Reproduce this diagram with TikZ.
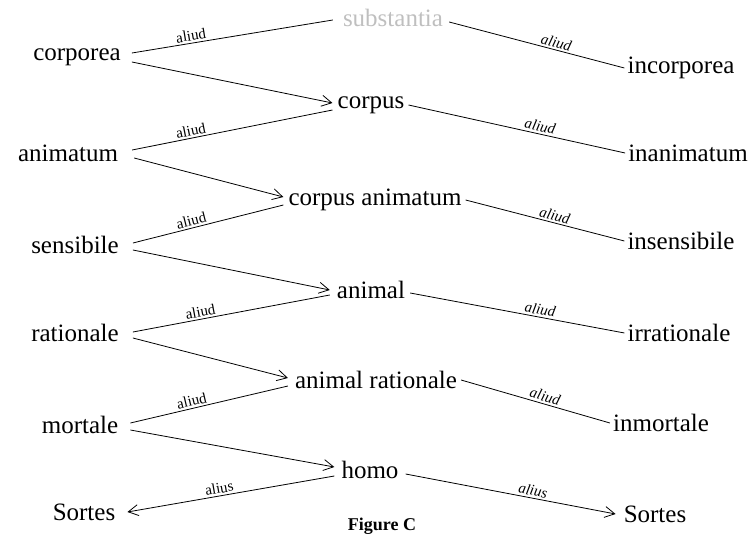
\documentclass[tikz,border=0pt]{standalone}
\usepackage{fontspec}
\setmainfont{Liberation Serif}
\usetikzlibrary{arrows.meta}
\begin{document}
\begin{tikzpicture}[x=1pt,y=-1pt,
  term/.style={font=\fontsize{25}{28}\selectfont, inner sep=0pt},
  lab/.style={font=\fontsize{15}{17}\selectfont, inner sep=2pt, sloped, above},
  rlab/.style={font=\itshape\fontsize{15}{17}\selectfont, inner sep=2pt, sloped, above},
  link/.style={line width=0.8pt},
  arr/.style={line width=0.8pt, -{Straight Barb[length=10pt,width=11pt,line width=0.8pt]}},
  faint/.style={color=black!25}]
\useasboundingbox (0,0) rectangle (749,540);
% terms
\node[term] (corporea) at (77,57) {corporea};
\node[term,faint] (substantia) at (393,18) {substantia};
\node[term] (incorporea) at (681,68) {incorporea};
\node[term] (corpus) at (371,105) {corpus};
\node[term] (animatum) at (68,153) {animatum};
\node[term] (inanimatum) at (688,153) {inanimatum};
\node[term] (corpusanimatum) at (375,200) {corpus animatum};
\node[term] (sensibile) at (75,245) {sensibile};
\node[term] (insensibile) at (681,241) {insensibile};
\node[term] (animal) at (371,290) {animal};
\node[term] (rationale) at (75,333) {rationale};
\node[term] (irrationale) at (679,333) {irrationale};
\node[term] (animalrationale) at (376,380) {animal rationale};
\node[term] (mortale) at (80,425) {mortale};
\node[term] (inmortale) at (661,423) {inmortale};
\node[term] (homo) at (370,470) {homo};
\node[term] (sortesL) at (84,512) {Sortes};
\node[term] (sortesR) at (655,514) {Sortes};
\node[font=\bfseries\fontsize{18}{21}\selectfont, inner sep=0pt] (fig) at (382,526) {Figure C};
% top
\draw[link] ([yshift=4pt,xshift=11pt]corporea.east) -- node[lab,pos=0.3]{aliud} ([yshift=-2pt,xshift=-10pt]substantia.west);
\draw[link] ([yshift=-4pt,xshift=6pt]substantia.east) -- node[rlab,pos=0.6]{aliud} ([xshift=-3pt]incorporea.west);
% corporea -> corpus
\draw[arr] ([yshift=-5pt,xshift=11pt]corporea.east) -- ([yshift=2pt,xshift=-5pt]corpus.west);
\draw[link] ([yshift=3pt,xshift=14pt]animatum.east) -- node[lab,pos=0.3]{aliud} ([yshift=-5pt,xshift=-5pt]corpus.west);
\draw[link] ([xshift=4pt]corpus.east) -- node[rlab,pos=0.6]{aliud} ([xshift=-3pt]inanimatum.west);
% animatum -> corpus animatum
\draw[arr] ([yshift=-5pt,xshift=16pt]animatum.east) -- ([yshift=3pt,xshift=-5pt]corpusanimatum.west);
\draw[link] ([yshift=2pt,xshift=14pt]sensibile.east) -- node[lab,pos=0.4]{aliud} ([yshift=-5pt,xshift=-5pt]corpusanimatum.west);
\draw[link] ([xshift=4pt]corpusanimatum.east) -- node[rlab,pos=0.55]{aliud} ([xshift=-3pt]insensibile.west);
% sensibile -> animal
\draw[arr] ([yshift=-5pt,xshift=14pt]sensibile.east) -- ([yshift=0pt,xshift=-7pt]animal.west);
\draw[link] ([yshift=1pt,xshift=14pt]rationale.east) -- node[lab,pos=0.35]{aliud} ([yshift=-5pt,xshift=-7pt]animal.west);
\draw[link] ([yshift=-3pt,xshift=5pt]animal.east) -- node[rlab,pos=0.6]{aliud} ([xshift=-3pt]irrationale.west);
% rationale -> animal rationale
\draw[arr] ([yshift=-5pt,xshift=14pt]rationale.east) -- ([yshift=2pt,xshift=-7pt]animalrationale.west);
\draw[link] ([yshift=2pt,xshift=12pt]mortale.east) -- node[lab,pos=0.4]{aliud} ([yshift=-6pt,xshift=-7pt]animalrationale.west);
\draw[link] ([xshift=4pt]animalrationale.east) -- node[rlab,pos=0.55]{aliud} ([xshift=-3pt]inmortale.west);
% mortale -> homo
\draw[arr] ([yshift=-5pt,xshift=12pt]mortale.east) -- ([yshift=3pt,xshift=-7pt]homo.west);
\draw[arr] ([yshift=-6pt,xshift=-7pt]homo.west) -- node[lab,pos=0.55]{alius} ([yshift=0pt,xshift=12pt]sortesL.east);
\draw[arr] ([yshift=-4pt,xshift=7pt]homo.east) -- node[rlab,pos=0.6]{alius} ([yshift=0pt,xshift=-8pt]sortesR.west);
\end{tikzpicture}
\end{document}
